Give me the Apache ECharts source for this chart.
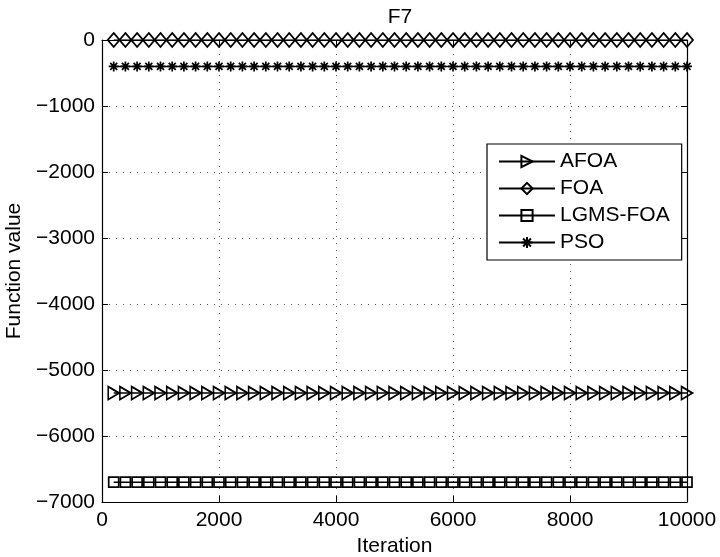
<!DOCTYPE html>
<html>
<head>
<meta charset="utf-8">
<title>F7</title>
<script src="https://cdn.jsdelivr.net/npm/echarts@6/dist/echarts.min.js"></script>
<style>
  html, body { margin: 0; padding: 0; background: #fff; }
  #chart { width: 720px; height: 557px; }
</style>
</head>
<body>
<div id="chart"></div>
<script>
// Iterations at which the best function value was recorded
const iterations = [
  200, 400, 600, 800, 1000, 1200, 1400, 1600, 1800, 2000,
  2200, 2400, 2600, 2800, 3000, 3200, 3400, 3600, 3800, 4000,
  4200, 4400, 4600, 4800, 5000, 5200, 5400, 5600, 5800, 6000,
  6200, 6400, 6600, 6800, 7000, 7200, 7400, 7600, 7800, 8000,
  8200, 8400, 8600, 8800, 9000, 9200, 9400, 9600, 9800, 10000
];

const afoa = [
  -5350, -5350, -5350, -5350, -5350, -5350, -5350, -5350, -5350, -5350,
  -5350, -5350, -5350, -5350, -5350, -5350, -5350, -5350, -5350, -5350,
  -5350, -5350, -5350, -5350, -5350, -5350, -5350, -5350, -5350, -5350,
  -5350, -5350, -5350, -5350, -5350, -5350, -5350, -5350, -5350, -5350,
  -5350, -5350, -5350, -5350, -5350, -5350, -5350, -5350, -5350, -5350
];

const foa = [
  0, 0, 0, 0, 0, 0, 0, 0, 0, 0,
  0, 0, 0, 0, 0, 0, 0, 0, 0, 0,
  0, 0, 0, 0, 0, 0, 0, 0, 0, 0,
  0, 0, 0, 0, 0, 0, 0, 0, 0, 0,
  0, 0, 0, 0, 0, 0, 0, 0, 0, 0
];

const lgmsFoa = [
  -6700, -6700, -6700, -6700, -6700, -6700, -6700, -6700, -6700, -6700,
  -6700, -6700, -6700, -6700, -6700, -6700, -6700, -6700, -6700, -6700,
  -6700, -6700, -6700, -6700, -6700, -6700, -6700, -6700, -6700, -6700,
  -6700, -6700, -6700, -6700, -6700, -6700, -6700, -6700, -6700, -6700,
  -6700, -6700, -6700, -6700, -6700, -6700, -6700, -6700, -6700, -6700
];

const pso = [
  -400, -400, -400, -400, -400, -400, -400, -400, -400, -400,
  -400, -400, -400, -400, -400, -400, -400, -400, -400, -400,
  -400, -400, -400, -400, -400, -400, -400, -400, -400, -400,
  -400, -400, -400, -400, -400, -400, -400, -400, -400, -400,
  -400, -400, -400, -400, -400, -400, -400, -400, -400, -400
];

const seriesNames = ['AFOA', 'FOA', 'LGMS-FOA', 'PSO'];
const xTicks = [0, 2000, 4000, 6000, 8000, 10000];
const yTicks = [-7000, -6000, -5000, -4000, -3000, -2000, -1000, 0];

const FONT = 'Liberation Sans, Arial, Helvetica, sans-serif';
const FS = 21;

// Marker outlines
const SYM_TRIANGLE = 'path://M0,0 L10,6 L0,12 Z';
const SYM_DIAMOND = 'path://M6,0 L12,7 L6,14 L0,7 Z';
const SYM_SQUARE = 'path://M0,0 L10,0 L10,10 L0,10 Z';
const SYM_STAR = 'path://M5,0 L5,10 M0,5 L10,5 M1.5,1.5 L8.5,8.5 M1.5,8.5 L8.5,1.5';

function pairs(values) {
  return iterations.map((it, i) => [it, values[i]]);
}

function lineSeries(name, values, symbol, size) {
  return {
    name: name,
    type: 'line',
    data: pairs(values),
    symbol: symbol,
    symbolSize: size,
    showSymbol: true,
    showAllSymbol: true,
    color: '#000',
    lineStyle: { color: '#000', width: 1.5 },
    itemStyle: { color: 'rgba(0,0,0,0)', borderColor: '#000', borderWidth: 1.7 },
    emphasis: { disabled: true },
    z: 3
  };
}

const minusFmt = v => String(v).replace('-', '\u2212');

const chart = echarts.init(document.getElementById('chart'), null, { renderer: 'canvas' });

chart.setOption({
  animation: false,
  backgroundColor: '#fff',
  textStyle: { fontFamily: FONT, color: '#000' },
  title: {
    text: 'F7',
    left: 395,
    top: 2,
    textAlign: 'center',
    textStyle: { fontFamily: FONT, fontSize: FS, fontWeight: 'normal', color: '#000' }
  },
  grid: { left: 102, right: 33, top: 40, bottom: 55, containLabel: false, outerBoundsMode: 'none' },
  legend: {
    data: seriesNames,
    orient: 'vertical',
    left: 487,
    top: 144,
    padding: [7, 12, 7, 11],
    itemWidth: 56,
    itemHeight: 14,
    itemGap: 6,
    backgroundColor: '#fff',
    borderColor: '#000',
    borderWidth: 1.2,
    borderRadius: 0,
    selectedMode: false,
    textStyle: { fontFamily: FONT, fontSize: FS, color: '#000', padding: [0, 0, 0, 0] },
    z: 10
  },
  xAxis: [
    {
      type: 'value',
      min: 0,
      max: 10000,
      interval: 2000,
      name: 'Iteration',
      nameLocation: 'middle',
      nameGap: 29,
      nameTextStyle: { fontFamily: FONT, fontSize: FS, color: '#000' },
      axisLine: { show: true, onZero: false, lineStyle: { color: '#000', width: 1.2 } },
      axisTick: { show: true, inside: true, length: 6, lineStyle: { color: '#000', width: 1 } },
      axisLabel: { fontFamily: FONT, fontSize: FS, color: '#000', margin: 8,
        formatter: v => xTicks.includes(v) ? String(v) : '' },
      splitLine: { show: true, lineStyle: { color: '#555', width: 1, type: [1, 6] } }
    },
    {
      type: 'value',
      position: 'top',
      min: 0,
      max: 10000,
      interval: 2000,
      axisLine: { show: true, onZero: false, lineStyle: { color: '#000', width: 1.2 } },
      axisTick: { show: true, inside: true, length: 6, lineStyle: { color: '#000', width: 1 } },
      axisLabel: { show: false },
      splitLine: { show: false }
    }
  ],
  yAxis: [
    {
      type: 'value',
      min: -7000,
      max: 0,
      interval: 1000,
      name: 'Function value',
      nameLocation: 'middle',
      nameGap: 76,
      nameTextStyle: { fontFamily: FONT, fontSize: FS, color: '#000' },
      axisLine: { show: true, onZero: false, lineStyle: { color: '#000', width: 1.2 } },
      axisTick: { show: true, inside: true, length: 6, lineStyle: { color: '#000', width: 1 } },
      axisLabel: { fontFamily: FONT, fontSize: FS, color: '#000', margin: 7,
        formatter: v => yTicks.includes(v) ? minusFmt(v) : '' },
      splitLine: { show: true, lineStyle: { color: '#555', width: 1, type: [1, 6] } }
    },
    {
      type: 'value',
      position: 'right',
      min: -7000,
      max: 0,
      interval: 1000,
      axisLine: { show: true, onZero: false, lineStyle: { color: '#000', width: 1.2 } },
      axisTick: { show: true, inside: true, length: 6, lineStyle: { color: '#000', width: 1 } },
      axisLabel: { show: false },
      splitLine: { show: false }
    }
  ],
  series: [
    lineSeries('AFOA', afoa, SYM_TRIANGLE, [11, 13]),
    lineSeries('FOA', foa, SYM_DIAMOND, [12, 14]),
    lineSeries('LGMS-FOA', lgmsFoa, SYM_SQUARE, [10, 10]),
    lineSeries('PSO', pso, SYM_STAR, [10, 10])
  ]
});
</script>
</body>
</html>
